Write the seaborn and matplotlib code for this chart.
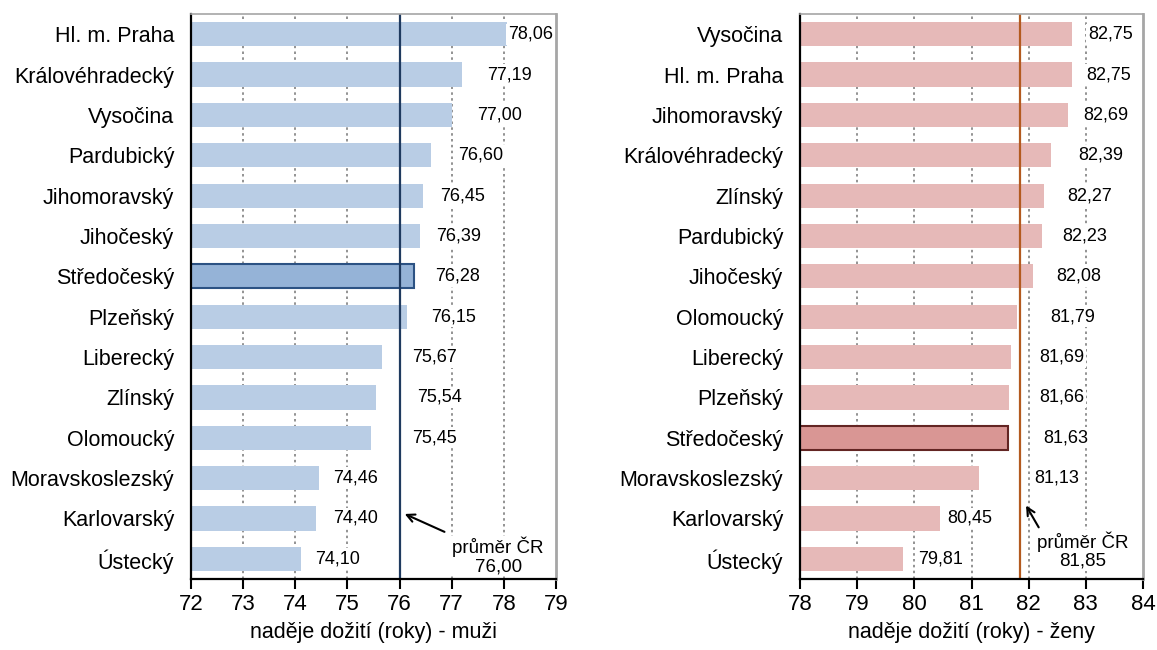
import matplotlib
matplotlib.use("Agg")
import matplotlib.pyplot as plt
import seaborn as sns
import pandas as pd

# ---------------------------------------------------
# DATA
# ---------------------------------------------------

men_regions = [
    "Hl. m. Praha", "Královéhradecký", "Vysočina", "Pardubický",
    "Jihomoravský", "Jihočeský", "Středočeský", "Plzeňský",
    "Liberecký", "Zlínský", "Olomoucký", "Moravskoslezský",
    "Karlovarský", "Ústecký",
]
men_values = [78.06, 77.19, 77.00, 76.60, 76.45, 76.39, 76.28,
              76.15, 75.67, 75.54, 75.45, 74.46, 74.40, 74.10]
men_avg = 76.00

women_regions = [
    "Vysočina", "Hl. m. Praha", "Jihomoravský", "Královéhradecký",
    "Zlínský", "Pardubický", "Jihočeský", "Olomoucký",
    "Liberecký", "Plzeňský", "Středočeský", "Moravskoslezský",
    "Karlovarský", "Ústecký",
]
women_values = [82.75, 82.75, 82.69, 82.39, 82.27, 82.23, 82.08,
                81.79, 81.69, 81.66, 81.63, 81.13, 80.45, 79.81]
women_avg = 81.85

highlight = "Středočeský"

# label placement (left edge of value labels, in axis units)
men_label_x = [78.08, 77.68, 77.49, 77.12, 76.78, 76.70, 76.68,
               76.60, 76.24, 76.33, 76.24, 74.72, 74.72, 74.38]
women_label_x = [83.04, 83.00, 82.95, 82.86, 82.67, 82.58, 82.48,
                 82.37, 82.18, 82.18, 82.25, 82.09, 80.57, 80.06]

# ---------------------------------------------------
# STYLE
# ---------------------------------------------------

sns.set_style("white")
plt.rcParams["font.family"] = ["Liberation Sans", "DejaVu Sans"]
plt.rcParams["text.color"] = "black"
plt.rcParams["axes.labelcolor"] = "black"
plt.rcParams["xtick.color"] = "black"
plt.rcParams["ytick.color"] = "black"


def fmt(v):
    return f"{v:.2f}".replace(".", ",")


def draw_panel(ax, regions, values, label_x, avg, xlim, xlabel,
               light, dark, edge, avg_color, arrow_tip, arrow_tail,
               note_xy):

    df = pd.DataFrame({"region": regions, "value": values})
    colors = {r: (dark if r == highlight else light) for r in regions}

    sns.barplot(
        data=df, x="value", y="region", hue="region",
        palette=colors, legend=False, width=0.6,
        saturation=1, ax=ax, zorder=2
    )

    idx = regions.index(highlight)
    for p in ax.patches:
        c = p.get_y() + p.get_height() / 2
        if abs(c - idx) < 0.1:
            p.set_edgecolor(edge)
            p.set_linewidth(1.5)
        else:
            p.set_edgecolor("none")

    ax.set_xlim(*xlim)
    ax.set_ylim(len(regions) - 0.5, -0.5)
    ax.set_xticks(range(xlim[0], xlim[1] + 1))

    # dotted vertical grid
    for t in range(xlim[0] + 1, xlim[1]):
        ax.axvline(t, color="#808080", linestyle=(0, (1.5, 2)),
                   linewidth=1.2, zorder=1)

    # average line
    ax.axvline(avg, color=avg_color, linewidth=1.6, zorder=4)

    # value labels
    for i, (v, lx) in enumerate(zip(values, label_x)):
        ax.text(lx, i, fmt(v), ha="left", va="center", fontsize=13,
                zorder=3,
                bbox=dict(facecolor="white", edgecolor="none", pad=1.5))

    # average note + arrow
    ax.annotate(
        "", xy=arrow_tip, xytext=arrow_tail,
        arrowprops=dict(arrowstyle="->", color="black", lw=1.5,
                        mutation_scale=14),
        zorder=5
    )
    ax.text(note_xy[0], note_xy[1], "průměr ČR\n" + fmt(avg),
            ha="center", va="center", fontsize=13.5, linespacing=1.05,
            zorder=3,
            bbox=dict(facecolor="white", edgecolor="none", pad=1))

    # category ticks at boundaries
    ax.set_yticks(range(len(regions)))
    ax.set_yticklabels(regions)
    ax.set_yticks([i - 0.5 for i in range(len(regions) + 1)], minor=True)
    ax.tick_params(axis="y", which="major", length=0, pad=12,
                   labelsize=15.5)
    ax.tick_params(axis="y", which="minor", length=7, width=1.5,
                   direction="out", color="black")
    ax.tick_params(axis="x", which="major", length=7, width=1.5,
                   direction="out", color="black", labelsize=16, pad=4,
                   bottom=True)

    ax.set_ylabel("")
    ax.set_xlabel(xlabel, fontsize=15.5, labelpad=5)

    ax.spines["left"].set_color("black")
    ax.spines["left"].set_linewidth(1.6)
    ax.spines["bottom"].set_color("black")
    ax.spines["bottom"].set_linewidth(1.6)
    ax.spines["top"].set_color("#a6a6a6")
    ax.spines["top"].set_linewidth(1.2)
    ax.spines["right"].set_color("#a6a6a6")
    ax.spines["right"].set_linewidth(2)
    for s in ax.spines.values():
        s.set_visible(True)
        s.set_zorder(6)


fig = plt.figure(figsize=(11.57, 6.5), dpi=100)

ax1 = fig.add_axes([191 / 1157, 71 / 650, 365 / 1157, 565 / 650])
ax2 = fig.add_axes([800 / 1157, 71 / 650, 343 / 1157, 565 / 650])

draw_panel(
    ax1, men_regions, men_values, men_label_x, men_avg, (72, 79),
    "naděje dožití (roky) - muži",
    light="#b9cde5", dark="#95b3d7", edge="#2c5283",
    avg_color="#1f3a5f",
    arrow_tip=(76.05, 11.86), arrow_tail=(76.91, 12.36),
    note_xy=(77.89, 12.93)
)

draw_panel(
    ax2, women_regions, women_values, women_label_x, women_avg, (78, 84),
    "naděje dožití (roky) - ženy",
    light="#e6b9b8", dark="#d99694", edge="#632523",
    avg_color="#b35a1f",
    arrow_tip=(81.93, 11.62), arrow_tail=(82.2, 12.28),
    note_xy=(82.95, 12.8)
)

fig.savefig("out.png", dpi=100)
plt.close(fig)
